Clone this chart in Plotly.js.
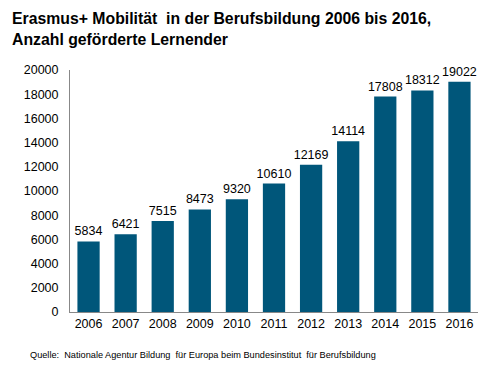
<!DOCTYPE html>
<html><head><meta charset="utf-8">
<script src="https://cdn.plot.ly/plotly-3.0.1.min.js"></script>
<style>body{margin:0;background:#fff}#c{width:491px;height:375px}</style>
</head><body><div id="c"></div>
<script>
const years = ['2006','2007','2008','2009','2010','2011','2012','2013','2014','2015','2016'];
const learners = [5834,6421,7515,8473,9320,10610,12169,14114,17808,18312,19022];
const titleText = '<b>Erasmus+ Mobilität  in der Berufsbildung 2006 bis 2016,<br>Anzahl geförderte Lernender</b>';
const sourceText = 'Quelle:  Nationale Agentur Bildung  für Europa beim Bundesinstitut  für Berufsbildung';

Plotly.newPlot('c', [{
  type: 'bar', x: years, y: learners,
  marker: {color: '#00567A'},
  text: learners.map(String), textposition: 'outside', cliponaxis: false, constraintext: 'none',
  textfont: {family: 'Liberation Sans, Arial', size: 12.5, color: '#000'},
  hoverinfo: 'none'
}], {
  width: 491, height: 375,
  margin: {l: 70, r: 13, t: 70, b: 63},
  bargap: 0.4,
  paper_bgcolor: '#fff', plot_bgcolor: '#fff',
  font: {family: 'Liberation Sans, Arial', color: '#000'},
  xaxis: {type: 'category', showline: true, linecolor: '#888', linewidth: 1, ticks: '', tickfont: {size: 12.5}, fixedrange: true},
  yaxis: {range: [0, 20000], dtick: 2000, tickformat: 'd', showgrid: false, showline: true, linecolor: '#888', linewidth: 1,
          ticks: '', zeroline: false, tickfont: {size: 12.5}, ticklabelstandoff: 8, fixedrange: true},
  showlegend: false,
  annotations: [
    {text: titleText, xref: 'paper', yref: 'paper', x: -0.147, y: 1.255, xanchor: 'left', yanchor: 'top', align: 'left',
     showarrow: false, font: {size: 15.8, color: '#000'}},
    {text: sourceText, xref: 'paper', yref: 'paper', x: -0.103, y: -0.178, xanchor: 'left', yanchor: 'middle',
     showarrow: false, font: {size: 9.2, color: '#000'}}]
}, {displayModeBar: false, staticPlot: true});
</script></body></html>
